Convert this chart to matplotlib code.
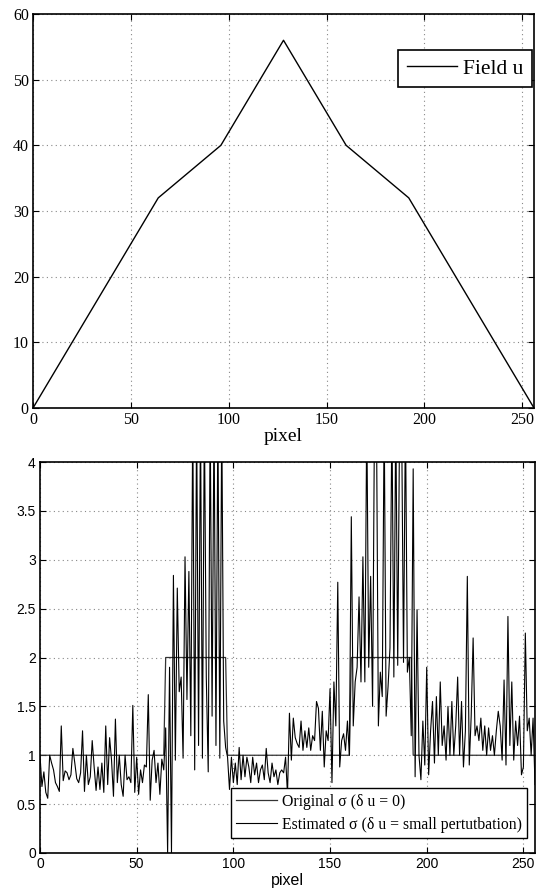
import matplotlib
matplotlib.use("Agg")
import matplotlib.pyplot as plt
import numpy as np

# ---- data ----
field_px = [0, 64, 96, 128, 160, 192, 256]
field_u = [0, 32, 40, 56, 40, 32, 0]

orig_px = [0, 64, 65, 96, 97, 160, 161, 192, 193, 256]
orig_sigma = [1, 1, 2, 2, 1, 1, 2, 2, 1, 1]

est_seg1 = [1.0, 0.68, 0.83, 0.62, 0.56, 1.0, 0.92, 0.85, 0.72, 0.68,
            0.63, 1.30, 0.74, 0.84, 0.82, 0.75, 0.80, 1.07, 0.92, 0.76,
            0.72, 0.82, 1.25, 0.63, 1.0, 0.70, 0.78, 1.15, 0.88, 0.64,
            0.88, 0.65, 0.92, 0.62, 1.30, 0.70, 1.18, 0.95, 0.58, 1.37,
            0.72, 1.0, 0.70, 0.58, 1.0, 0.75, 0.78, 0.72, 1.51, 0.62,
            0.98, 0.60, 0.85, 0.72, 0.90, 0.88, 1.62, 0.54, 0.95, 1.05,
            0.72, 0.92, 0.60, 0.96, 0.85]
est_seg2 = [1.28, 0.0, 1.9, 0.0, 2.84, 0.95, 2.71, 1.65, 1.8, 0.97,
            3.03, 1.57, 2.88, 1.2, 4.5, 0.85, 4.5, 1.1, 4.5, 0.97,
            4.5, 1.8, 0.83, 4.5, 1.4, 4.5, 1.1, 4.5, 0.97, 4.5,
            1.35, 1.08]
est_seg3 = [0.98, 0.65, 0.98, 0.72, 0.92, 0.70, 1.08, 0.75, 1.0, 0.78,
            0.98, 0.88, 0.72, 0.98, 0.80, 0.92, 0.72, 0.85, 0.90, 0.75,
            1.07, 0.82, 0.72, 0.92, 0.78, 0.85, 0.70, 0.82, 0.85, 0.82,
            0.98, 0.60]
est_seg4 = [1.43, 0.95, 1.38, 1.18, 1.12, 1.08, 1.35, 1.05, 1.25, 1.08,
            1.28, 1.05, 1.20, 1.15, 1.55, 1.48, 1.05, 1.45, 0.88, 1.25,
            1.15, 1.68, 0.72, 1.75, 1.30, 2.77, 0.88, 1.15, 1.22, 1.05,
            1.35, 1.0]
est_seg5 = [3.44, 1.3, 1.75, 1.9, 2.62, 1.75, 3.03, 1.75, 4.5, 1.9,
            2.83, 1.5, 4.5, 4.5, 1.3, 1.85, 1.6, 4.5, 1.4, 1.7,
            2.1, 4.5, 1.8, 4.5, 1.92, 4.5, 4.5, 1.95, 4.5, 1.85,
            2.0, 1.2]
est_seg6 = [3.93, 0.78, 2.49, 1.0, 0.75, 1.35, 0.9, 1.9, 0.8, 1.25,
            1.55, 0.92, 1.6, 1.0, 1.75, 1.1, 1.3, 0.95, 1.5, 1.0,
            1.55, 1.0, 1.3, 1.8, 1.0, 1.55, 0.88, 1.25, 2.83, 0.9,
            1.4, 2.2, 1.2, 1.3, 1.15, 1.38, 1.05, 1.3, 1.0, 1.28,
            1.05, 1.2, 1.0, 1.25, 1.45, 1.3, 0.95, 1.77, 0.9, 2.42,
            1.1, 1.75, 0.95, 1.35, 1.1, 1.4, 0.8, 0.88, 2.25, 1.25,
            1.38, 1.0, 1.38, 0.7]
est_sigma = est_seg1 + est_seg2 + est_seg3 + est_seg4 + est_seg5 + est_seg6
est_px = list(range(len(est_sigma)))

top_xticks = [0, 50, 100, 150, 200, 250]
top_yticks = [0, 10, 20, 30, 40, 50, 60]
bot_yticks = [0, 0.5, 1, 1.5, 2, 2.5, 3, 3.5, 4]
bot_ylabels = ['0', '0.5', '1', '1.5', '2', '2.5', '3', '3.5', '4']

SERIF = ['Liberation Serif', 'DejaVu Serif']
SANS = ['Liberation Sans', 'DejaVu Sans']

fig = plt.figure(figsize=(5.42, 8.93), dpi=100)

def style_axes(ax, fam, size):
    ax.tick_params(direction='in', top=True, right=True, length=4, width=0.8,
                   labelsize=size, pad=3)
    for lab in ax.get_xticklabels() + ax.get_yticklabels():
        lab.set_family(fam)
    for s in ax.spines.values():
        s.set_linewidth(1.2)
    ax.grid(True, linestyle=(0, (1, 3)), color='#888888', linewidth=0.8)
    ax.set_axisbelow(True)

# ---- top ----
ax1 = fig.add_axes([33/542, 1-408/893, (534-33)/542, (408-14)/893])
ax1.plot(field_px, field_u, color='black', linewidth=1.0, label='Field u')
ax1.set_xlim(0, 256)
ax1.set_ylim(0, 60)
ax1.set_xticks(top_xticks)
ax1.set_yticks(top_yticks)
style_axes(ax1, SERIF, 11.5)
ax1.set_xlabel('pixel', family=SERIF, fontsize=14, labelpad=0)
leg1 = ax1.legend(loc='upper right', bbox_to_anchor=(0.996, 0.909),
                  prop={'family': SERIF, 'size': 15.5},
                  handlelength=2.3, fancybox=False, edgecolor='black',
                  framealpha=1, borderpad=0.4, handletextpad=0.3,
                  borderaxespad=0)
leg1.get_frame().set_linewidth(1.2)

# ---- bottom ----
ax2 = fig.add_axes([40/542, 1-853/893, (535-40)/542, (853-462)/893])
ax2.plot(orig_px, orig_sigma, color='#333333', linewidth=0.9,
         label='Original σ (δ u = 0)')
ax2.plot(est_px, est_sigma, color='black', linewidth=0.8,
         label='Estimated σ (δ u = small pertutbation)')
ax2.set_xlim(0, 256)
ax2.set_ylim(0, 4)
ax2.set_xticks(top_xticks)
ax2.set_yticks(bot_yticks)
ax2.set_yticklabels(bot_ylabels)
style_axes(ax2, SANS, 10)
ax2.set_xlabel('pixel', family=SANS, fontsize=11.5, labelpad=1)
leg2 = ax2.legend(loc='lower right', bbox_to_anchor=(0.984, 0.038),
                  prop={'family': SERIF, 'size': 11.3},
                  handlelength=2.6, fancybox=False, edgecolor='black',
                  framealpha=1, borderpad=0.35, handletextpad=0.3,
                  labelspacing=0.45, borderaxespad=0)
leg2.get_frame().set_linewidth(1.0)

fig.savefig('out.png', dpi=100)
